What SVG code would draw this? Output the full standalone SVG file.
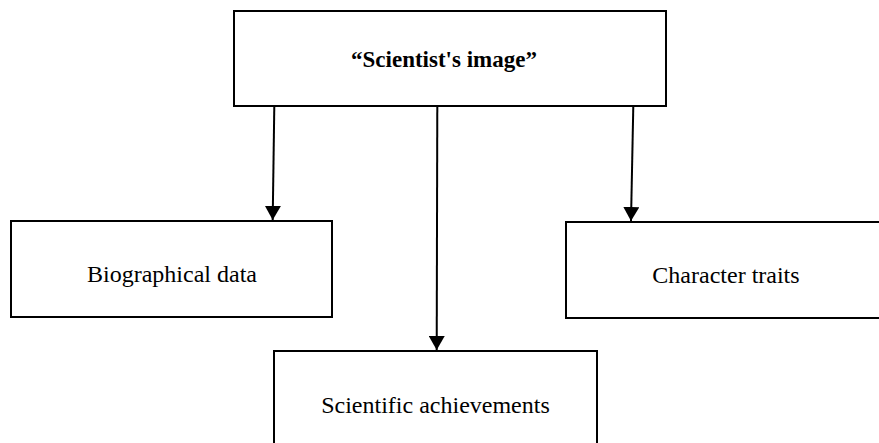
<svg xmlns="http://www.w3.org/2000/svg" width="879" height="443" viewBox="0 0 879 443">
<style>
.box{fill:#fff;stroke:#000;stroke-width:2}
.lbl{font-size:24px;fill:#000;text-anchor:middle}
.b{font-weight:bold;font-size:23px}
.conn{stroke:#000;stroke-width:2;fill:none;marker-end:url(#ah)}
</style>
<defs>
<marker id="ah" markerUnits="userSpaceOnUse" markerWidth="14" markerHeight="16" refX="14" refY="8" orient="auto" viewBox="0 0 14 16">
<path d="M0,0 L14,8 L0,16 z" fill="#000"/>
</marker>
</defs>
<rect width="879" height="443" fill="#fff"/>
<g id="connectors">
<line class="conn" x1="274.3" y1="106" x2="272.7" y2="220"/>
<line class="conn" x1="437.3" y1="106" x2="436.7" y2="350"/>
<line class="conn" x1="633.3" y1="106" x2="631" y2="221"/>
</g>
<g id="n-top">
<rect class="box" x="234" y="11" width="432" height="95"/>
<text class="lbl b" font-family="'Liberation Serif', 'Times New Roman', serif" x="444" y="67">“Scientist's image”</text>
</g>
<g id="n-bio">
<rect class="box" x="11" y="221" width="321" height="96"/>
<text class="lbl" font-family="'Liberation Serif', 'Times New Roman', serif" x="172" y="282">Biographical data</text>
</g>
<g id="n-char">
<rect class="box" x="566" y="222" width="340" height="96"/>
<text class="lbl" font-family="'Liberation Serif', 'Times New Roman', serif" x="726" y="283">Character traits</text>
</g>
<g id="n-sci">
<rect class="box" x="274" y="351" width="323" height="110"/>
<text class="lbl" font-family="'Liberation Serif', 'Times New Roman', serif" x="435.5" y="413">Scientific achievements</text>
</g>
</svg>
